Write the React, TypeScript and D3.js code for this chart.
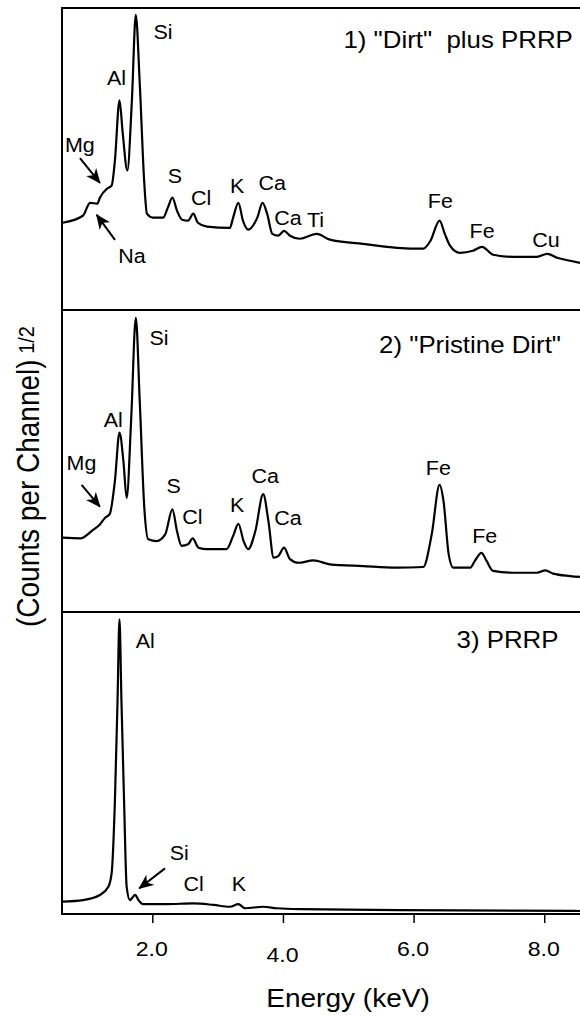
import React from 'react';
import * as d3 from 'd3';

// spectra: [energy keV, sqrt counts (arb., 0-100 per panel)]
const dirtPlusPrrp: [number, number][] = [
  [0.62, 28.9], [0.93, 31.2], [1.04, 35.5], [1.15, 35.2], [1.19, 37.2], [1.30, 40.2], [1.37, 41.2],
  [1.42, 49.5], [1.49, 69.4], [1.54, 58.5], [1.61, 46.2], [1.68, 69.4], [1.74, 97.7], [1.80, 75.1],
  [1.87, 41.9], [1.91, 31.9], [2.00, 30.6], [2.16, 30.6], [2.23, 33.9], [2.30, 37.2], [2.37, 32.9],
  [2.45, 29.9], [2.54, 29.6], [2.62, 31.9], [2.69, 28.9], [2.83, 27.6], [3.18, 27.2], [3.23, 30.6],
  [3.31, 35.5], [3.38, 29.6], [3.46, 26.6], [3.60, 30.6], [3.68, 35.5], [3.75, 31.9], [3.83, 25.2],
  [3.92, 24.6], [4.01, 26.2], [4.10, 24.6], [4.25, 23.6], [4.51, 25.2], [4.71, 23.3], [5.22, 21.9],
  [5.74, 20.6], [6.14, 20.3], [6.25, 22.9], [6.39, 29.6], [6.47, 25.2], [6.55, 21.3], [6.70, 18.9],
  [6.90, 19.6], [7.04, 20.9], [7.21, 18.3], [7.52, 17.6], [7.88, 17.6], [8.04, 18.6], [8.19, 17.3],
  [8.39, 16.3], [8.54, 15.6],
];

const pristineDirt: [number, number][] = [
  [0.62, 24.6], [0.89, 24.4], [1.08, 27.1], [1.19, 29.0], [1.27, 31.2], [1.34, 32.4], [1.42, 43.4],
  [1.49, 59.4], [1.55, 50.0], [1.60, 37.8], [1.67, 64.3], [1.74, 97.4], [1.80, 69.9], [1.87, 34.5],
  [1.93, 24.1], [2.06, 23.5], [2.19, 25.7], [2.30, 34.0], [2.37, 26.8], [2.44, 21.9], [2.54, 22.4],
  [2.61, 24.4], [2.70, 21.3], [2.83, 20.8], [3.13, 20.8], [3.23, 25.2], [3.31, 29.2], [3.39, 23.5],
  [3.46, 20.8], [3.57, 26.8], [3.69, 39.0], [3.77, 30.1], [3.85, 18.0], [3.92, 18.5], [4.01, 21.3],
  [4.10, 17.5], [4.23, 16.3], [4.46, 17.1], [4.71, 15.8], [5.22, 15.2], [5.73, 14.7], [6.14, 14.9],
  [6.27, 25.7], [6.39, 42.1], [6.45, 36.8], [6.53, 19.1], [6.60, 14.7], [6.86, 14.7], [6.93, 16.9],
  [7.03, 19.6], [7.11, 16.9], [7.21, 13.6], [7.52, 13.0], [7.88, 13.0], [8.01, 13.8], [8.13, 12.7],
  [8.39, 11.9], [8.54, 11.6],
];

const prrp: [number, number][] = [
  [0.62, 4.1], [0.93, 4.6], [1.19, 6.3], [1.32, 9.0], [1.37, 13.5], [1.42, 37.6], [1.46, 70.6],
  [1.49, 97.6], [1.52, 70.6], [1.56, 37.6], [1.60, 9.0], [1.65, 4.6], [1.68, 5.2], [1.73, 6.3],
  [1.78, 4.6], [1.85, 3.3], [2.21, 3.3], [2.62, 3.5], [2.93, 3.0], [3.18, 2.4], [3.31, 3.3],
  [3.41, 1.9], [3.69, 2.4], [3.90, 1.9], [4.25, 1.6], [5.78, 1.3], [8.54, 1.0],
];

// element labels: [text, energy, value]
const dirtLabels: [string, number, number][] = [
  ['Si', 2.01, 89.6], ['Al', 1.30, 74.5], ['Mg', 0.655, 52.4], ['Na', 1.47, 15.5], ['S', 2.23, 42.2],
  ['Cl', 2.585, 34.8], ['K', 3.18, 38.6], ['Ca', 3.62, 39.7], ['Ca', 3.86, 28.1], ['Ti', 4.36, 27.6],
  ['Fe', 6.21, 33.7], ['Fe', 6.85, 23.7], ['Cu', 7.81, 21.0],
];
const pristineLabels: [string, number, number][] = [
  ['Si', 1.95, 88.4], ['Al', 1.25, 61.4], ['Mg', 0.68, 47.0], ['S', 2.21, 39.5], ['Cl', 2.45, 29.1],
  ['K', 3.18, 33.2], ['Ca', 3.51, 42.6], ['Ca', 3.86, 28.8], ['Fe', 6.18, 45.4], ['Fe', 6.89, 22.7],
];
const prrpLabels: [string, number, number][] = [
  ['Al', 1.74, 88.2], ['Si', 2.26, 17.9], ['Cl', 2.47, 7.6], ['K', 3.21, 7.6],
];

// arrows: [fromE, fromV, toE, toV]
const dirtArrows = [[0.885, 50.3, 1.19, 42.1], [1.421, 23.2, 1.141, 31.5]];
const pristineArrows = [[0.91, 42.1, 1.19, 34.9]];
const prrpArrows = [[2.187, 15.1, 1.793, 8.5]];

const panelTitles = ['1) "Dirt"  plus PRRP', '2) "Pristine Dirt"', '3) PRRP'];
const titlePos = [[8.43, 86.7], [8.25, 85.7], [8.21, 88.0]];
const xTicks = [2, 4, 6, 8];

const FONT = '"Liberation Sans", Arial, Helvetica, sans-serif';
const SX = 1.1; // the figure's lettering is a little wide

const W = 580, H = 1016;
const left = 62, right = 580, top = 8, panelH = 302;

export default function App() {
  const x = d3.scaleLinear().domain([0.61, 8.54]).range([left, right]);
  const panels = [
    { data: dirtPlusPrrp, labels: dirtLabels, arrows: dirtArrows },
    { data: pristineDirt, labels: pristineLabels, arrows: pristineArrows },
    { data: prrp, labels: prrpLabels, arrows: prrpArrows },
  ];
  const bottom = top + panelH * 3;
  const fmt = d3.format('.1f');

  return (
    <svg width={W} height={H} style={{ position: 'absolute', left: 0, top: 0, background: '#fff' }}
      fontFamily={FONT}>
      <defs>
        <marker id="arr" viewBox="0 0 14 12" refX="13" refY="6" markerWidth="15" markerHeight="13"
          markerUnits="userSpaceOnUse" orient="auto">
          <path d="M0,0 L14,6 L0,12 L4,6 Z" fill="#000" />
        </marker>
      </defs>
      {panels.map((p, i) => {
        const y = d3.scaleLinear().domain([0, 100]).range([top + panelH * (i + 1), top + panelH * i]);
        const line = d3.line<[number, number]>().x(d => x(d[0])).y(d => y(d[1])).curve(d3.curveMonotoneX);
        return (
          <g key={i}>
            <path d={line(p.data) || ''} fill="none" stroke="#000" strokeWidth={2.2} strokeLinejoin="round" />
            {p.labels.map(([t, e, v], j) => (
              <text key={j} transform={`translate(${x(e)},${y(v)}) scale(${SX},1)`} fontSize={19.5}>{t}</text>
            ))}
            {p.arrows.map((a, j) => (
              <line key={j} x1={x(a[0])} y1={y(a[1])} x2={x(a[2])} y2={y(a[3])} stroke="#000"
                strokeWidth={2} markerEnd="url(#arr)" />
            ))}
            <text transform={`translate(${x(titlePos[i][0])},${y(titlePos[i][1])}) scale(${SX},1)`}
              textAnchor="end" fontSize={23.5} style={{ whiteSpace: 'pre' }}>{panelTitles[i]}</text>
            <line x1={left} x2={right} y1={y(100)} y2={y(100)} stroke="#000" strokeWidth={2} />
          </g>
        );
      })}
      <line x1={left} x2={right} y1={bottom} y2={bottom} stroke="#000" strokeWidth={2} />
      <line x1={left} x2={left} y1={top - 1} y2={bottom + 1} stroke="#000" strokeWidth={2} />
      {xTicks.map(t => (
        <g key={t}>
          <line x1={x(t)} x2={x(t)} y1={bottom} y2={bottom + 9} stroke="#000" strokeWidth={1.5} />
          <text transform={`translate(${x(t) - 1},${bottom + (t === 4 ? 48 : 42)}) scale(${SX},1)`}
            textAnchor="middle" fontSize={21}>{fmt(t)}</text>
        </g>
      ))}
      <text transform={`translate(348,1007) scale(${SX},1)`} textAnchor="middle" fontSize={25.5}>Energy (keV)</text>
      <text transform={`translate(39,627) scale(${SX},1) rotate(-90)`} fontSize={28}>
        (Counts per Channel)<tspan fontSize={20} dy={-5}>{' 1/2'}</tspan>
      </text>
    </svg>
  );
}
